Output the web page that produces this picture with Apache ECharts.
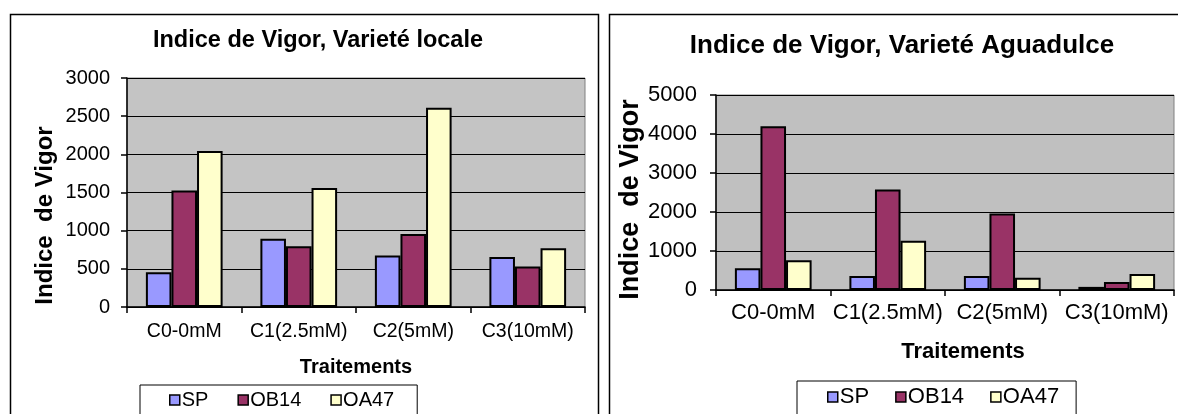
<!DOCTYPE html>
<html>
<head>
<meta charset="utf-8">
<script src="https://cdn.jsdelivr.net/npm/echarts@6/dist/echarts.min.js"></script>
<style>html,body{margin:0;padding:0;background:#fff;}#c{width:1178px;height:414px;}</style>
</head>
<body>
<div id="c"></div>
<script>
const categories = ['C0-0mM', 'C1(2.5mM)', 'C2(5mM)', 'C3(10mM)'];
const seriesNames = ['SP', 'OB14', 'OA47'];
const seriesColors = ['#9999FF', '#993366', '#FFFFCC'];
// Left chart: Variété locale
const localeSP = [455, 895, 675, 655];
const localeOB14 = [1525, 795, 955, 530];
const localeOA47 = [2045, 1560, 2610, 770];
// Right chart: Variété Aguadulce
const aguaSP = [560, 360, 360, 80];
const aguaOB14 = [4200, 2580, 1960, 205];
const aguaOA47 = [760, 1265, 316, 410];
const leftTicks = {min: 0, max: 3000, interval: 500};
const rightTicks = {min: 0, max: 5000, interval: 1000};

const FONT = 'Liberation Sans, Arial, sans-serif';
const chart = echarts.init(document.getElementById('c'), null, {renderer: 'canvas'});

function bar(name, data, idx, color) {
  return {
    name: name, type: 'bar', data: data,
    xAxisIndex: idx, yAxisIndex: idx,
    barGap: '0%', barCategoryGap: '33%',
    itemStyle: {color: color, borderColor: '#000', borderWidth: 2},
    emphasis: {disabled: true},
    animation: false
  };
}
function xAx(idx, fs, margin, nameGap, namePad, nfs) {
  return {
    type: 'category', gridIndex: idx, data: categories,
    axisLine: {lineStyle: {color: '#000', width: 1.5}},
    axisTick: {show: true, length: 6, interval: 0, lineStyle: {color: '#000', width: 1.5}},
    axisLabel: {interval: 0, fontFamily: FONT, fontSize: fs, color: '#000', margin: margin},
    name: 'Traitements', nameLocation: 'middle', nameGap: nameGap,
    nameTextStyle: {fontFamily: FONT, fontSize: nfs, fontWeight: 'bold', color: '#000', padding: namePad}
  };
}
function yAx(idx, t, fs, margin, nameGap, namePad, nfs) {
  return {
    type: 'value', gridIndex: idx, min: t.min, max: t.max, interval: t.interval,
    axisLine: {show: true, lineStyle: {color: '#000', width: 1.5}},
    axisTick: {show: true, length: 6, lineStyle: {color: '#000', width: 1.5}},
    axisLabel: {fontFamily: FONT, fontSize: fs, color: '#000', margin: margin,
                formatter: function (v) { return String(v); }},
    splitLine: {show: true, lineStyle: {color: '#000', width: 1}},
    name: 'Indice  de Vigor', nameLocation: 'middle', nameGap: nameGap,
    nameTextStyle: {fontFamily: FONT, fontSize: nfs, fontWeight: 'bold', color: '#000', padding: namePad}
  };
}
function legend(left, top, fs, pad, gap) {
  return {
    left: left, top: top, orient: 'horizontal',
    data: seriesNames, itemWidth: 10, itemHeight: 10, itemGap: gap,
    icon: 'rect', padding: pad, borderColor: '#000', borderWidth: 1,
    backgroundColor: '#fff', selectedMode: false,
    itemStyle: {borderColor: '#000', borderWidth: 1.5},
    textStyle: {fontFamily: FONT, fontSize: fs, color: '#000', padding: [0, 0, 0, -3]}
  };
}

const option = {
  animation: false,
  backgroundColor: '#fff',
  title: [
    {text: 'Indice de Vigor, Varieté locale', left: 318, top: 29, textAlign: 'center', padding: 0,
     textStyle: {fontFamily: FONT, fontSize: 23.5, fontWeight: 'bold', color: '#000'}},
    {text: 'Indice de Vigor, Varieté Aguadulce', left: 902, top: 33, textAlign: 'center', padding: 0,
     textStyle: {fontFamily: FONT, fontSize: 26, fontWeight: 'bold', color: '#000'}}
  ],
  graphic: [
    {type: 'rect', left: 8, top: 12, shape: {width: 588, height: 420}, style: {fill: 'none', stroke: '#000', lineWidth: 1.5}, silent: true, z: -10},
    {type: 'rect', left: 607, top: 12, shape: {width: 600, height: 420}, style: {fill: 'none', stroke: '#000', lineWidth: 1.5}, silent: true, z: -10}
  ],
  legend: [
    legend(140, 385, 20, [5, 23, 20, 29], 29),
    legend(797, 381, 22, [5, 17, 20, 30], 26)
  ],
  grid: [
    {left: 127, top: 78, width: 458, height: 229, show: true, backgroundColor: '#C4C4C4', borderColor: '#808080', borderWidth: 1},
    {left: 716, top: 95, width: 458, height: 195, show: true, backgroundColor: '#C0C0C0', borderColor: '#808080', borderWidth: 1}
  ],
  xAxis: [
    xAx(0, 19.5, 15, 50, [0, 0, 0, 0], 20),
    xAx(1, 22, 12, 51, [0, 0, 0, 36], 22)
  ],
  yAxis: [
    yAx(0, leftTicks, 20, 17, 70, [0, 46, 0, 0], 24),
    yAx(1, rightTicks, 22, 19, 64, [0, 14, 0, 0], 27)
  ],
  series: [
    bar('SP', localeSP, 0, seriesColors[0]),
    bar('OB14', localeOB14, 0, seriesColors[1]),
    bar('OA47', localeOA47, 0, seriesColors[2]),
    bar('SP', aguaSP, 1, seriesColors[0]),
    bar('OB14', aguaOB14, 1, seriesColors[1]),
    bar('OA47', aguaOA47, 1, seriesColors[2])
  ]
};
chart.setOption(option);
</script>
</body>
</html>
